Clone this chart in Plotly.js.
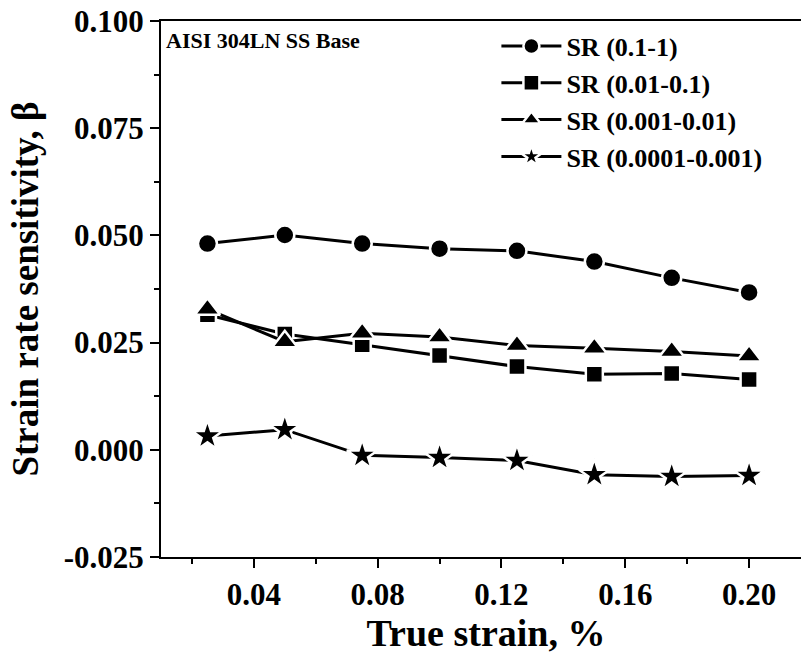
<!DOCTYPE html>
<html>
<head>
<meta charset="utf-8">
<script src="https://cdn.plot.ly/plotly-3.0.1.min.js"></script>
<style>
  html, body { margin: 0; padding: 0; overflow: hidden; background: #fff; }
  #chart { width: 830px; height: 658px; }
</style>
</head>
<body>
<div id="chart"></div>
<script>
// True strain at which the strain rate sensitivity was evaluated
const trueStrain = [0.025, 0.05, 0.075, 0.1, 0.125, 0.15, 0.175, 0.2];

// Strain rate sensitivity (beta) for each strain-rate interval
const sr_0p1_1 = [0.0481, 0.0501, 0.0481, 0.0469, 0.0464, 0.0439, 0.0401, 0.0367];
const sr_0p01_0p1 = [0.0315, 0.0270, 0.0245, 0.0220, 0.0194, 0.0176, 0.0178, 0.0164];
const sr_0p001_0p01 = [0.0328, 0.0252, 0.0272, 0.0263, 0.0243, 0.0237, 0.0229, 0.0219];
const sr_0p0001_0p001 = [0.0032, 0.0047, -0.0013, -0.0018, -0.0025, -0.0058, -0.0062, -0.0060];

const seriesNames = ['SR (0.1-1)', 'SR (0.01-0.1)', 'SR (0.001-0.01)', 'SR (0.0001-0.001)'];
const xTickVals = [0.04, 0.08, 0.12, 0.16, 0.20];
const xTickText = ['0.04', '0.08', '0.12', '0.16', '0.20'];
const yTickVals = [-0.025, 0, 0.025, 0.05, 0.075, 0.1];
const yTickText = ['-0.025', '0.000', '0.025', '0.050', '0.075', '0.100'];

const FONT = 'Liberation Serif, Times New Roman, serif';

function series(y, name, symbol, size) {
  return {
    x: trueStrain, y: y, name: name,
    type: 'scatter', mode: 'lines+markers',
    line: { color: '#000', width: 3 },
    marker: { symbol: symbol, size: size, color: '#000',
              line: { color: '#fff', width: 2.5 } },
    cliponaxis: false
  };
}

const data = [
  series(sr_0p1_1, seriesNames[0], 'circle', 19),
  series(sr_0p01_0p1, seriesNames[1], 'square', 17),
  series(sr_0p001_0p01, seriesNames[2], 'triangle-up', 22),
  series(sr_0p0001_0p001, seriesNames[3], 'star', 23)
];

const layout = {
  width: 830, height: 658,
  margin: { l: 161, r: 19, t: 21, b: 101 },
  paper_bgcolor: '#fff', plot_bgcolor: '#fff',
  font: { family: FONT, color: '#000', weight: 700 },
  showlegend: true,
  legend: {
    x: 0.516, y: 0.997, xanchor: 'left', yanchor: 'top',
    bgcolor: 'rgba(0,0,0,0)', borderwidth: 0,
    font: { family: FONT, size: 26, weight: 700, color: '#000' },
    itemwidth: 60, tracegroupgap: 0
  },
  xaxis: {
    range: [0.01, 0.22],
    tickvals: xTickVals, ticktext: xTickText,
    ticks: 'outside', ticklen: 9, tickwidth: 2, tickcolor: '#000',
    minor: { dtick: 0.04, tick0: 0.02, ticks: 'outside', ticklen: 5, tickwidth: 2, tickcolor: '#000' },
    showline: true, linewidth: 2, linecolor: '#000', mirror: true,
    showgrid: false, zeroline: false,
    tickfont: { family: FONT, size: 31, weight: 700 },
    title: { text: 'True strain, %', font: { family: FONT, size: 38, weight: 700 }, standoff: 3 }
  },
  yaxis: {
    range: [-0.025, 0.1],
    tickvals: yTickVals, ticktext: yTickText,
    ticks: 'outside', ticklen: 9, tickwidth: 2, tickcolor: '#000',
    minor: { dtick: 0.025, tick0: 0.0125, ticks: 'outside', ticklen: 5, tickwidth: 2, tickcolor: '#000' },
    showline: true, linewidth: 2, linecolor: '#000', mirror: true,
    showgrid: false, zeroline: false,
    tickfont: { family: FONT, size: 31, weight: 700 },
    title: { text: 'Strain rate sensitivity, β', font: { family: FONT, size: 37, weight: 700 }, standoff: 14 }
  },
  annotations: [{
    text: 'AISI 304LN SS Base', xref: 'paper', yref: 'paper',
    x: 0.004, y: 0.99, xanchor: 'left', yanchor: 'top', showarrow: false,
    font: { family: FONT, size: 22, weight: 700, color: '#000' }
  }]
};

Plotly.newPlot('chart', data, layout, { displayModeBar: false, staticPlot: true });
</script>
</body>
</html>
